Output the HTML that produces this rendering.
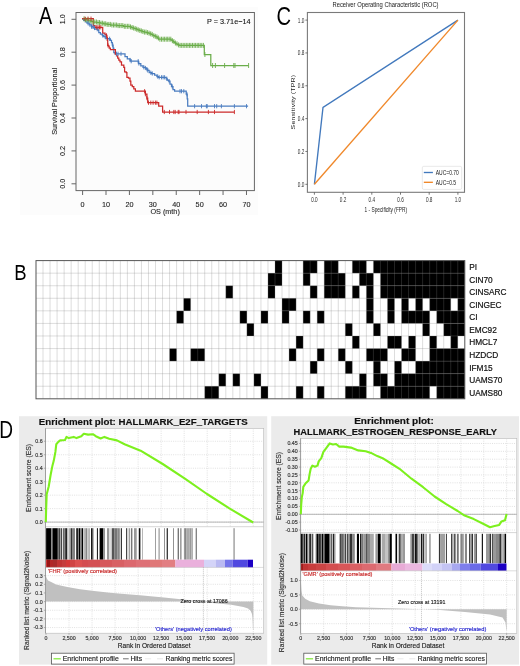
<!DOCTYPE html>
<html><head><meta charset="utf-8"><title>Figure</title>
<style>
html,body{margin:0;padding:0;background:#fff;}
body{width:520px;height:666px;overflow:hidden;font-family:"Liberation Sans", sans-serif;}
svg{display:block;font-family:"Liberation Sans", sans-serif;will-change:transform;filter:blur(0.4px);}
</style></head><body>
<svg width="520" height="666" viewBox="0 0 520 666">
<rect width="520" height="666" fill="#fff"/>
<rect x="20" y="7" width="238" height="208" fill="#fcfcfc"/>
<text x="39" y="23.7" font-size="23" transform="translate(39 0) scale(0.86 1) translate(-39 0)" fill="#000">A</text>
<rect x="76" y="12.5" width="178.4" height="178.1" fill="none" stroke="#666" stroke-width="1"/>
<line x1="71.5" y1="183.80" x2="76" y2="183.80" stroke="#666" stroke-width="1"/>
<text x="0" y="0" font-size="7.25" text-anchor="middle" fill="#222" transform="translate(65.1 183.80) rotate(-90)" stroke="#222" stroke-width="0.1">0.0</text>
<line x1="71.5" y1="150.90" x2="76" y2="150.90" stroke="#666" stroke-width="1"/>
<text x="0" y="0" font-size="7.25" text-anchor="middle" fill="#222" transform="translate(65.1 150.90) rotate(-90)" stroke="#222" stroke-width="0.1">0.2</text>
<line x1="71.5" y1="118.00" x2="76" y2="118.00" stroke="#666" stroke-width="1"/>
<text x="0" y="0" font-size="7.25" text-anchor="middle" fill="#222" transform="translate(65.1 118.00) rotate(-90)" stroke="#222" stroke-width="0.1">0.4</text>
<line x1="71.5" y1="85.10" x2="76" y2="85.10" stroke="#666" stroke-width="1"/>
<text x="0" y="0" font-size="7.25" text-anchor="middle" fill="#222" transform="translate(65.1 85.10) rotate(-90)" stroke="#222" stroke-width="0.1">0.6</text>
<line x1="71.5" y1="52.20" x2="76" y2="52.20" stroke="#666" stroke-width="1"/>
<text x="0" y="0" font-size="7.25" text-anchor="middle" fill="#222" transform="translate(65.1 52.20) rotate(-90)" stroke="#222" stroke-width="0.1">0.8</text>
<line x1="71.5" y1="19.30" x2="76" y2="19.30" stroke="#666" stroke-width="1"/>
<text x="0" y="0" font-size="7.25" text-anchor="middle" fill="#222" transform="translate(65.1 19.30) rotate(-90)" stroke="#222" stroke-width="0.1">1.0</text>
<line x1="82.60" y1="190.6" x2="82.60" y2="195" stroke="#666" stroke-width="1"/>
<text x="82.60" y="206.8" font-size="7.25" text-anchor="middle" fill="#222" stroke="#222" stroke-width="0.1">0</text>
<line x1="106.01" y1="190.6" x2="106.01" y2="195" stroke="#666" stroke-width="1"/>
<text x="106.01" y="206.8" font-size="7.25" text-anchor="middle" fill="#222" stroke="#222" stroke-width="0.1">10</text>
<line x1="129.42" y1="190.6" x2="129.42" y2="195" stroke="#666" stroke-width="1"/>
<text x="129.42" y="206.8" font-size="7.25" text-anchor="middle" fill="#222" stroke="#222" stroke-width="0.1">20</text>
<line x1="152.83" y1="190.6" x2="152.83" y2="195" stroke="#666" stroke-width="1"/>
<text x="152.83" y="206.8" font-size="7.25" text-anchor="middle" fill="#222" stroke="#222" stroke-width="0.1">30</text>
<line x1="176.24" y1="190.6" x2="176.24" y2="195" stroke="#666" stroke-width="1"/>
<text x="176.24" y="206.8" font-size="7.25" text-anchor="middle" fill="#222" stroke="#222" stroke-width="0.1">40</text>
<line x1="199.65" y1="190.6" x2="199.65" y2="195" stroke="#666" stroke-width="1"/>
<text x="199.65" y="206.8" font-size="7.25" text-anchor="middle" fill="#222" stroke="#222" stroke-width="0.1">50</text>
<line x1="223.06" y1="190.6" x2="223.06" y2="195" stroke="#666" stroke-width="1"/>
<text x="223.06" y="206.8" font-size="7.25" text-anchor="middle" fill="#222" stroke="#222" stroke-width="0.1">60</text>
<line x1="246.47" y1="190.6" x2="246.47" y2="195" stroke="#666" stroke-width="1"/>
<text x="246.47" y="206.8" font-size="7.25" text-anchor="middle" fill="#222" stroke="#222" stroke-width="0.1">70</text>
<text x="165.1" y="214.3" font-size="7.25" text-anchor="middle" fill="#222" stroke="#222" stroke-width="0.1">OS (mth)</text>
<text x="0" y="0" font-size="7.25" text-anchor="middle" fill="#222" transform="translate(57.3 101.3) rotate(-90)" stroke="#222" stroke-width="0.1">Survival Proportional</text>
<text x="250.5" y="24" font-size="7.25" text-anchor="end" fill="#111" stroke="#111" stroke-width="0.1">P = 3.71e−14</text>
<polyline points="82.0,18.9 84.3,18.9 84.3,19.5 86.5,19.5 86.5,20.1 88.8,20.1 88.8,20.8 91.0,20.8 91.0,21.4 93.3,21.4 93.3,22.0 96.8,22.0 96.8,22.6 100.2,22.6 100.2,23.2 103.7,23.2 103.7,23.8 107.1,23.8 107.1,24.4 110.6,24.4 110.6,25.0 117.1,25.0 117.1,25.6 123.5,25.6 123.5,26.3 130.0,26.3 130.0,26.9 131.6,26.9 131.6,27.5 133.1,27.5 133.1,28.0 134.6,28.0 134.6,28.6 136.2,28.6 136.2,29.2 137.7,29.2 137.7,29.8 139.2,29.8 139.2,30.4 140.8,30.4 140.8,30.9 142.3,30.9 142.3,31.5 144.2,31.5 144.2,32.1 146.2,32.1 146.2,32.6 148.1,32.6 148.1,33.2 150.0,33.2 150.0,33.8 151.2,33.8 151.2,34.4 152.5,34.4 152.5,35.0 153.7,35.0 153.7,35.7 155.0,35.7 155.0,36.3 156.2,36.3 156.2,36.9 157.3,36.9 157.3,38.0 158.5,38.0 158.5,39.2 170.0,39.2 171.0,39.2 171.0,40.0 172.1,40.0 172.1,40.7 173.1,40.7 173.1,41.5 174.1,41.5 174.1,42.3 175.2,42.3 175.2,43.0 176.2,43.0 176.2,43.8 177.2,43.8 177.2,44.3 178.2,44.3 178.2,44.9 179.2,44.9 179.2,45.4 204.3,45.4 204.3,54.5 210.8,54.5 210.8,65.5 248.6,65.5" fill="none" stroke="#6aad4a" stroke-width="1.25" stroke-linejoin="miter"/>
<polyline points="82.0,18.9 83.7,18.9 83.7,20.3 85.3,20.3 85.3,21.8 87.0,21.8 87.0,23.2 89.2,23.2 89.2,24.9 91.5,24.9 91.5,26.7 93.2,26.7 93.2,27.9 95.0,27.9 95.0,29.2 98.1,29.2 98.1,30.4 98.8,30.4 98.8,32.7 100.4,32.7 100.4,34.2 102.3,34.2 102.3,35.4 103.5,35.4 103.5,36.5 105.8,36.5 105.8,38.5 108.5,38.5 108.5,38.8 110.4,38.8 110.4,40.4 111.5,40.4 111.5,42.7 112.3,42.7 112.3,45.0 113.1,45.0 113.1,48.1 113.8,48.1 113.8,52.7 115.0,52.7 115.0,53.8 124.2,53.8 125.0,53.8 125.0,56.5 127.3,56.5 127.3,58.8 130.0,58.8 130.0,60.0 130.8,60.0 130.8,61.2 136.9,61.2 138.5,61.2 138.5,63.5 140.8,63.5 140.8,65.8 143.0,65.8 143.0,67.3 145.4,67.3 145.4,68.0 146.6,68.0 146.6,69.2 147.7,69.2 147.7,70.4 149.2,70.4 149.2,72.7 151.5,72.7 151.5,73.5 154.6,73.5 154.6,75.0 156.9,75.0 156.9,76.5 158.5,76.5 158.5,77.3 164.6,77.3 166.2,77.3 166.2,78.8 167.3,78.8 167.3,80.0 168.5,80.0 168.5,81.2 170.0,81.2 170.0,84.2 171.5,84.2 171.5,86.5 173.0,86.5 173.0,89.6 174.6,89.6 174.6,91.2 184.6,91.2 186.2,91.2 186.2,94.2 187.2,94.2 187.2,98.8 187.7,98.8 187.7,106.2 248.1,106.2" fill="none" stroke="#4a7cc0" stroke-width="1.25" stroke-linejoin="miter"/>
<polyline points="82.0,18.7 93.3,18.7 93.3,25.5 95.0,25.5 95.0,27.3 102.7,27.3 102.7,33.1 104.2,33.1 105.0,33.1 105.0,34.6 106.2,34.6 106.2,35.4 106.9,35.4 106.9,37.3 107.3,37.3 107.3,40.4 107.7,40.4 107.7,45.4 108.5,45.4 108.5,46.2 109.2,46.2 109.2,48.1 110.4,48.1 110.4,49.6 115.0,49.6 115.4,49.6 115.4,54.2 116.5,54.2 116.5,55.8 117.7,55.8 117.7,58.1 118.8,58.1 118.8,60.0 120.0,60.0 120.0,61.9 121.5,61.9 121.5,65.0 123.8,65.0 123.8,67.3 124.6,67.3 124.6,71.9 126.2,71.9 126.2,72.7 126.9,72.7 126.9,77.3 128.5,77.3 128.5,78.0 130.0,78.0 130.0,81.2 130.8,81.2 130.8,85.0 132.3,85.0 132.3,86.5 133.8,86.5 133.8,88.8 135.4,88.8 135.4,91.2 144.6,91.2 145.4,91.2 145.4,94.2 146.9,94.2 146.9,98.1 147.7,98.1 147.7,102.7 157.8,102.7 158.7,102.7 158.7,106.1 161.8,106.1 162.6,106.1 162.6,112.0 234.4,112.0" fill="none" stroke="#cc2a2a" stroke-width="1.25" stroke-linejoin="miter"/>
<path d="M84.0 16.4V21.4M85.5 17.0V22.0M87.1 17.6V22.6M88.7 17.6V22.6M90.2 18.3V23.3M91.8 18.9V23.9M93.3 19.5V24.5M94.8 19.5V24.5M96.4 19.5V24.5M98.0 20.1V25.1M99.5 20.1V25.1M101.0 20.7V25.7M102.6 20.7V25.7M104.2 21.3V26.3M105.7 21.3V26.3M107.2 21.9V26.9M108.8 21.9V26.9M110.3 21.9V26.9M111.9 22.5V27.5M113.5 22.5V27.5M115.0 22.5V27.5M116.6 22.5V27.5M118.1 23.1V28.1M119.7 23.1V28.1M121.2 23.1V28.1M122.8 23.1V28.1M124.3 23.8V28.8M125.8 23.8V28.8M127.4 23.8V28.8M128.9 23.8V28.8M130.5 24.4V29.4M132.1 25.0V30.0M133.6 25.5V30.5M135.2 26.1V31.1M136.7 26.7V31.7M138.2 27.3V32.3M139.8 27.9V32.9M141.3 28.4V33.4M142.9 29.0V34.0M144.4 29.6V34.6M146.0 29.6V34.6M147.6 30.1V35.1M149.1 30.7V35.7M150.7 31.3V36.3M152.2 31.9V36.9M153.8 33.2V38.2M155.3 33.8V38.8M156.9 34.4V39.4M158.4 35.5V40.5M159.9 36.7V41.7M161.5 36.7V41.7M163.1 36.7V41.7M164.6 36.7V41.7M166.2 36.7V41.7M167.7 36.7V41.7M169.2 36.7V41.7M170.8 36.7V41.7M172.4 38.2V43.2M173.9 39.0V44.0M175.4 40.5V45.5M177.0 41.3V46.3M178.6 42.4V47.4M180.1 42.9V47.9M181.7 42.9V47.9M183.2 42.9V47.9M184.8 42.9V47.9M186.3 42.9V47.9M187.9 42.9V47.9M189.4 42.9V47.9M190.9 42.9V47.9M192.5 42.9V47.9M194.1 42.9V47.9M195.6 42.9V47.9M197.2 42.9V47.9M198.7 42.9V47.9M200.2 42.9V47.9M201.8 42.9V47.9M203.4 42.9V47.9M204.9 52.0V57.0M212.6 63.0V68.0M215.4 63.0V68.0M224.6 63.0V68.0M233.8 63.0V68.0M235.0 63.0V68.0M248.6 63.0V68.0" stroke="#6aad4a" stroke-width="0.9" fill="none"/>
<path d="M88.0 21.1V25.3M90.0 22.8V27.1M91.5 24.6V28.8M93.0 24.6V28.8M94.5 25.8V30.1M97.2 27.1V31.3M102.7 33.3V37.5M105.0 34.4V38.6M109.6 36.7V40.9M112.7 42.9V47.1M116.5 51.7V55.9M118.0 51.7V55.9M121.0 51.7V55.9M130.0 57.9V62.1M131.2 59.1V63.3M138.2 59.1V63.3M138.9 61.4V65.6M143.8 65.2V69.4M145.4 65.9V70.1M146.9 67.1V71.3M147.7 68.3V72.5M150.8 70.6V74.8M152.3 71.4V75.6M157.7 74.4V78.6M159.2 75.2V79.4M161.5 75.2V79.4M163.1 75.2V79.4M164.6 75.2V79.4M166.9 76.7V80.9M169.2 79.1V83.3M172.3 84.4V88.6M180.0 89.1V93.3M181.5 89.1V93.3M183.8 89.1V93.3M186.9 92.1V96.3M194.6 104.1V108.3M201.5 104.1V108.3M206.4 104.1V108.3M207.2 104.1V108.3M214.5 104.1V108.3M216.7 104.1V108.3M221.4 104.1V108.3M234.4 104.1V108.3M246.5 104.1V108.3" stroke="#4a7cc0" stroke-width="0.9" fill="none"/>
<path d="M85.0 16.6V20.8M88.0 16.6V20.8M91.0 16.6V20.8M96.7 25.2V29.4M98.0 25.2V29.4M99.5 25.2V29.4M100.8 25.2V29.4M106.5 33.3V37.5M108.0 43.3V47.5M144.6 89.1V93.3M145.4 92.1V96.3M146.9 96.0V100.2M148.5 100.6V104.8M150.8 100.6V104.8M153.1 100.6V104.8M155.4 100.6V104.8M156.9 100.6V104.8M164.3 109.9V114.1M169.5 109.9V114.1M173.8 109.9V114.1M175.2 109.9V114.1M178.2 109.9V114.1M179.0 109.9V114.1M186.0 109.9V114.1M197.2 109.9V114.1M208.4 109.9V114.1M214.5 109.9V114.1M234.4 109.9V114.1" stroke="#cc2a2a" stroke-width="0.9" fill="none"/>
<text x="276.6" y="24.6" font-size="25.5" transform="translate(276.6 0) scale(0.79 1) translate(-276.6 0)" fill="#000">C</text>
<text x="0" y="0" font-size="8" fill="#222" stroke="#222" stroke-width="0.01" text-anchor="middle" transform="translate(385.5 7.3) scale(0.73 1)">Receiver Operating Characteristic (ROC)</text>
<rect x="307.4" y="12.5" width="157.1" height="179.8" fill="none" stroke="#7a7a7a" stroke-width="1.1"/>
<line x1="305.4" y1="184.30" x2="307.4" y2="184.30" stroke="#555" stroke-width="0.8"/>
<text x="0" y="0" font-size="6.7" fill="#333" stroke="#333" stroke-width="0.01" text-anchor="end" transform="translate(304.3 186.70) scale(0.7 1)">0.0</text>
<line x1="314.40" y1="192.3" x2="314.40" y2="194.7" stroke="#555" stroke-width="0.8"/>
<text x="0" y="0" font-size="6.7" fill="#333" stroke="#333" stroke-width="0.01" text-anchor="middle" transform="translate(314.40 202.3) scale(0.7 1)">0.0</text>
<line x1="305.4" y1="151.46" x2="307.4" y2="151.46" stroke="#555" stroke-width="0.8"/>
<text x="0" y="0" font-size="6.7" fill="#333" stroke="#333" stroke-width="0.01" text-anchor="end" transform="translate(304.3 153.86) scale(0.7 1)">0.2</text>
<line x1="343.10" y1="192.3" x2="343.10" y2="194.7" stroke="#555" stroke-width="0.8"/>
<text x="0" y="0" font-size="6.7" fill="#333" stroke="#333" stroke-width="0.01" text-anchor="middle" transform="translate(343.10 202.3) scale(0.7 1)">0.2</text>
<line x1="305.4" y1="118.62" x2="307.4" y2="118.62" stroke="#555" stroke-width="0.8"/>
<text x="0" y="0" font-size="6.7" fill="#333" stroke="#333" stroke-width="0.01" text-anchor="end" transform="translate(304.3 121.02) scale(0.7 1)">0.4</text>
<line x1="371.80" y1="192.3" x2="371.80" y2="194.7" stroke="#555" stroke-width="0.8"/>
<text x="0" y="0" font-size="6.7" fill="#333" stroke="#333" stroke-width="0.01" text-anchor="middle" transform="translate(371.80 202.3) scale(0.7 1)">0.4</text>
<line x1="305.4" y1="85.78" x2="307.4" y2="85.78" stroke="#555" stroke-width="0.8"/>
<text x="0" y="0" font-size="6.7" fill="#333" stroke="#333" stroke-width="0.01" text-anchor="end" transform="translate(304.3 88.18) scale(0.7 1)">0.6</text>
<line x1="400.50" y1="192.3" x2="400.50" y2="194.7" stroke="#555" stroke-width="0.8"/>
<text x="0" y="0" font-size="6.7" fill="#333" stroke="#333" stroke-width="0.01" text-anchor="middle" transform="translate(400.50 202.3) scale(0.7 1)">0.6</text>
<line x1="305.4" y1="52.94" x2="307.4" y2="52.94" stroke="#555" stroke-width="0.8"/>
<text x="0" y="0" font-size="6.7" fill="#333" stroke="#333" stroke-width="0.01" text-anchor="end" transform="translate(304.3 55.34) scale(0.7 1)">0.8</text>
<line x1="429.20" y1="192.3" x2="429.20" y2="194.7" stroke="#555" stroke-width="0.8"/>
<text x="0" y="0" font-size="6.7" fill="#333" stroke="#333" stroke-width="0.01" text-anchor="middle" transform="translate(429.20 202.3) scale(0.7 1)">0.8</text>
<line x1="305.4" y1="20.10" x2="307.4" y2="20.10" stroke="#555" stroke-width="0.8"/>
<text x="0" y="0" font-size="6.7" fill="#333" stroke="#333" stroke-width="0.01" text-anchor="end" transform="translate(304.3 22.50) scale(0.7 1)">1.0</text>
<line x1="457.90" y1="192.3" x2="457.90" y2="194.7" stroke="#555" stroke-width="0.8"/>
<text x="0" y="0" font-size="6.7" fill="#333" stroke="#333" stroke-width="0.01" text-anchor="middle" transform="translate(457.90 202.3) scale(0.7 1)">1.0</text>
<text x="0" y="0" font-size="7.6" fill="#222" stroke="#222" stroke-width="0.01" text-anchor="middle" transform="translate(385.8 212) scale(0.63 1)">1 - Specificity (FPR)</text>
<text x="0" y="0" font-size="6.9" fill="#222" stroke="#222" stroke-width="0.01" text-anchor="middle" textLength="54.4" lengthAdjust="spacing" transform="translate(295.2 102.2) rotate(-90) scale(1 0.78)">Sensitivity (TPR)</text>
<polyline points="314.4,184.3 323,107.5 457.9,20.1" fill="none" stroke="#4279bd" stroke-width="1.35"/>
<line x1="314.4" y1="184.3" x2="457.9" y2="20.1" stroke="#f0882a" stroke-width="1.35"/>
<rect x="422.3" y="166.3" width="39.4" height="23.1" rx="1.5" fill="#fff" fill-opacity="0.8" stroke="#d8d8d8" stroke-width="0.6"/>
<line x1="423.8" y1="172.5" x2="432.9" y2="172.5" stroke="#4279bd" stroke-width="1.35"/>
<line x1="423.8" y1="182.3" x2="432.9" y2="182.3" stroke="#f0882a" stroke-width="1.35"/>
<text x="0" y="0" font-size="7.2" fill="#222" stroke="#222" stroke-width="0.01" transform="translate(435.8 175) scale(0.69 1)">AUC=0.70</text>
<text x="0" y="0" font-size="7.2" fill="#222" stroke="#222" stroke-width="0.01" transform="translate(435.8 185) scale(0.69 1)">AUC=0.5</text>
<text x="14.3" y="279.8" font-size="22.6" transform="translate(14.3 0) scale(0.82 1) translate(-14.3 0)" fill="#000">B</text>
<rect x="36.0" y="260.6" width="428.80" height="138.20" fill="#fff"/>
<rect x="275.00" y="260.60" width="7.03" height="12.56" fill="#000"/>
<rect x="303.12" y="260.60" width="14.06" height="12.56" fill="#000"/>
<rect x="324.21" y="260.60" width="14.06" height="12.56" fill="#000"/>
<rect x="352.33" y="260.60" width="14.06" height="12.56" fill="#000"/>
<rect x="373.42" y="260.60" width="91.38" height="12.56" fill="#000"/>
<rect x="267.97" y="273.16" width="14.06" height="12.56" fill="#000"/>
<rect x="303.12" y="273.16" width="7.03" height="12.56" fill="#000"/>
<rect x="324.21" y="273.16" width="21.09" height="12.56" fill="#000"/>
<rect x="359.36" y="273.16" width="14.06" height="12.56" fill="#000"/>
<rect x="380.45" y="273.16" width="84.35" height="12.56" fill="#000"/>
<rect x="225.80" y="285.73" width="7.03" height="12.56" fill="#000"/>
<rect x="267.97" y="285.73" width="7.03" height="12.56" fill="#000"/>
<rect x="310.15" y="285.73" width="7.03" height="12.56" fill="#000"/>
<rect x="324.21" y="285.73" width="21.09" height="12.56" fill="#000"/>
<rect x="352.33" y="285.73" width="7.03" height="12.56" fill="#000"/>
<rect x="366.39" y="285.73" width="7.03" height="12.56" fill="#000"/>
<rect x="380.45" y="285.73" width="84.35" height="12.56" fill="#000"/>
<rect x="183.62" y="298.29" width="7.03" height="12.56" fill="#000"/>
<rect x="282.03" y="298.29" width="14.06" height="12.56" fill="#000"/>
<rect x="366.39" y="298.29" width="7.03" height="12.56" fill="#000"/>
<rect x="387.48" y="298.29" width="7.03" height="12.56" fill="#000"/>
<rect x="401.53" y="298.29" width="7.03" height="12.56" fill="#000"/>
<rect x="415.59" y="298.29" width="7.03" height="12.56" fill="#000"/>
<rect x="429.65" y="298.29" width="21.09" height="12.56" fill="#000"/>
<rect x="457.77" y="298.29" width="7.03" height="12.56" fill="#000"/>
<rect x="176.59" y="310.85" width="7.03" height="12.56" fill="#000"/>
<rect x="239.86" y="310.85" width="7.03" height="12.56" fill="#000"/>
<rect x="260.94" y="310.85" width="7.03" height="12.56" fill="#000"/>
<rect x="282.03" y="310.85" width="7.03" height="12.56" fill="#000"/>
<rect x="303.12" y="310.85" width="7.03" height="12.56" fill="#000"/>
<rect x="317.18" y="310.85" width="7.03" height="12.56" fill="#000"/>
<rect x="366.39" y="310.85" width="7.03" height="12.56" fill="#000"/>
<rect x="387.48" y="310.85" width="7.03" height="12.56" fill="#000"/>
<rect x="401.53" y="310.85" width="28.12" height="12.56" fill="#000"/>
<rect x="436.68" y="310.85" width="28.12" height="12.56" fill="#000"/>
<rect x="246.89" y="323.42" width="7.03" height="12.56" fill="#000"/>
<rect x="345.30" y="323.42" width="7.03" height="12.56" fill="#000"/>
<rect x="373.42" y="323.42" width="7.03" height="12.56" fill="#000"/>
<rect x="422.62" y="323.42" width="7.03" height="12.56" fill="#000"/>
<rect x="443.71" y="323.42" width="21.09" height="12.56" fill="#000"/>
<rect x="296.09" y="335.98" width="7.03" height="12.56" fill="#000"/>
<rect x="352.33" y="335.98" width="7.03" height="12.56" fill="#000"/>
<rect x="387.48" y="335.98" width="14.06" height="12.56" fill="#000"/>
<rect x="408.56" y="335.98" width="7.03" height="12.56" fill="#000"/>
<rect x="429.65" y="335.98" width="7.03" height="12.56" fill="#000"/>
<rect x="450.74" y="335.98" width="7.03" height="12.56" fill="#000"/>
<rect x="169.56" y="348.55" width="7.03" height="12.56" fill="#000"/>
<rect x="190.65" y="348.55" width="14.06" height="12.56" fill="#000"/>
<rect x="289.06" y="348.55" width="7.03" height="12.56" fill="#000"/>
<rect x="317.18" y="348.55" width="7.03" height="12.56" fill="#000"/>
<rect x="338.27" y="348.55" width="7.03" height="12.56" fill="#000"/>
<rect x="366.39" y="348.55" width="21.09" height="12.56" fill="#000"/>
<rect x="401.53" y="348.55" width="14.06" height="12.56" fill="#000"/>
<rect x="429.65" y="348.55" width="35.15" height="12.56" fill="#000"/>
<rect x="310.15" y="361.11" width="7.03" height="12.56" fill="#000"/>
<rect x="345.30" y="361.11" width="7.03" height="12.56" fill="#000"/>
<rect x="373.42" y="361.11" width="7.03" height="12.56" fill="#000"/>
<rect x="394.50" y="361.11" width="7.03" height="12.56" fill="#000"/>
<rect x="415.59" y="361.11" width="49.21" height="12.56" fill="#000"/>
<rect x="218.77" y="373.67" width="7.03" height="12.56" fill="#000"/>
<rect x="232.83" y="373.67" width="7.03" height="12.56" fill="#000"/>
<rect x="253.91" y="373.67" width="7.03" height="12.56" fill="#000"/>
<rect x="359.36" y="373.67" width="7.03" height="12.56" fill="#000"/>
<rect x="373.42" y="373.67" width="14.06" height="12.56" fill="#000"/>
<rect x="394.50" y="373.67" width="70.30" height="12.56" fill="#000"/>
<rect x="204.71" y="386.24" width="14.06" height="12.56" fill="#000"/>
<rect x="260.94" y="386.24" width="7.03" height="12.56" fill="#000"/>
<rect x="296.09" y="386.24" width="7.03" height="12.56" fill="#000"/>
<rect x="317.18" y="386.24" width="7.03" height="12.56" fill="#000"/>
<rect x="345.30" y="386.24" width="21.09" height="12.56" fill="#000"/>
<rect x="380.45" y="386.24" width="49.21" height="12.56" fill="#000"/>
<rect x="436.68" y="386.24" width="28.12" height="12.56" fill="#000"/>
<path d="M43.03 260.6V398.8M50.06 260.6V398.8M57.09 260.6V398.8M64.12 260.6V398.8M71.15 260.6V398.8M78.18 260.6V398.8M85.21 260.6V398.8M92.24 260.6V398.8M99.27 260.6V398.8M106.30 260.6V398.8M113.32 260.6V398.8M120.35 260.6V398.8M127.38 260.6V398.8M134.41 260.6V398.8M141.44 260.6V398.8M148.47 260.6V398.8M155.50 260.6V398.8M162.53 260.6V398.8M169.56 260.6V398.8M176.59 260.6V398.8M183.62 260.6V398.8M190.65 260.6V398.8M197.68 260.6V398.8M204.71 260.6V398.8M211.74 260.6V398.8M218.77 260.6V398.8M225.80 260.6V398.8M232.83 260.6V398.8M239.86 260.6V398.8M246.89 260.6V398.8M253.91 260.6V398.8M260.94 260.6V398.8M267.97 260.6V398.8M275.00 260.6V398.8M282.03 260.6V398.8M289.06 260.6V398.8M296.09 260.6V398.8M303.12 260.6V398.8M310.15 260.6V398.8M317.18 260.6V398.8M324.21 260.6V398.8M331.24 260.6V398.8M338.27 260.6V398.8M345.30 260.6V398.8M352.33 260.6V398.8M359.36 260.6V398.8M366.39 260.6V398.8M373.42 260.6V398.8M380.45 260.6V398.8M387.48 260.6V398.8M394.50 260.6V398.8M401.53 260.6V398.8M408.56 260.6V398.8M415.59 260.6V398.8M422.62 260.6V398.8M429.65 260.6V398.8M436.68 260.6V398.8M443.71 260.6V398.8M450.74 260.6V398.8M457.77 260.6V398.8M36.0 273.16H464.8M36.0 285.73H464.8M36.0 298.29H464.8M36.0 310.85H464.8M36.0 323.42H464.8M36.0 335.98H464.8M36.0 348.55H464.8M36.0 361.11H464.8M36.0 373.67H464.8M36.0 386.24H464.8" stroke="#808080" stroke-opacity="0.27" stroke-width="1" fill="none"/>
<rect x="36.0" y="260.6" width="428.80" height="138.20" fill="none" stroke="#555" stroke-width="1"/>
<text x="469.2" y="270.03" font-size="8.3" fill="#111" stroke="#111" stroke-width="0.18">PI</text>
<text x="469.2" y="282.60" font-size="8.3" fill="#111" stroke="#111" stroke-width="0.18">CIN70</text>
<text x="469.2" y="295.16" font-size="8.3" fill="#111" stroke="#111" stroke-width="0.18">CINSARC</text>
<text x="469.2" y="307.72" font-size="8.3" fill="#111" stroke="#111" stroke-width="0.18">CINGEC</text>
<text x="469.2" y="320.29" font-size="8.3" fill="#111" stroke="#111" stroke-width="0.18">CI</text>
<text x="469.2" y="332.85" font-size="8.3" fill="#111" stroke="#111" stroke-width="0.18">EMC92</text>
<text x="469.2" y="345.41" font-size="8.3" fill="#111" stroke="#111" stroke-width="0.18">HMCL7</text>
<text x="469.2" y="357.98" font-size="8.3" fill="#111" stroke="#111" stroke-width="0.18">HZDCD</text>
<text x="469.2" y="370.54" font-size="8.3" fill="#111" stroke="#111" stroke-width="0.18">IFM15</text>
<text x="469.2" y="383.10" font-size="8.3" fill="#111" stroke="#111" stroke-width="0.18">UAMS70</text>
<text x="469.2" y="395.67" font-size="8.3" fill="#111" stroke="#111" stroke-width="0.18">UAMS80</text>
<text x="0" y="437.6" font-size="23" transform="translate(-0.8 0) scale(0.83 1)" fill="#000">D</text>
<rect x="19" y="416.2" width="248.2" height="248.4" fill="#ebebeb"/>
<text x="38.8" y="424.8" font-size="8.9" font-weight="bold" fill="#111" textLength="208.9" lengthAdjust="spacingAndGlyphs" stroke="#111" stroke-width="0.15">Enrichment plot: HALLMARK_E2F_TARGETS</text>
<rect x="45.5" y="428.5" width="218.2" height="204.7" fill="#fff" stroke="#b8b8b8" stroke-width="0.6"/>
<line x1="69.03" y1="428.5" x2="69.03" y2="526.7" stroke="#d4d4d4" stroke-width="0.7" stroke-dasharray="1,1.2"/>
<line x1="69.03" y1="567.3" x2="69.03" y2="633.2" stroke="#d4d4d4" stroke-width="0.7" stroke-dasharray="1,1.2"/>
<line x1="92.06" y1="428.5" x2="92.06" y2="526.7" stroke="#d4d4d4" stroke-width="0.7" stroke-dasharray="1,1.2"/>
<line x1="92.06" y1="567.3" x2="92.06" y2="633.2" stroke="#d4d4d4" stroke-width="0.7" stroke-dasharray="1,1.2"/>
<line x1="115.09" y1="428.5" x2="115.09" y2="526.7" stroke="#d4d4d4" stroke-width="0.7" stroke-dasharray="1,1.2"/>
<line x1="115.09" y1="567.3" x2="115.09" y2="633.2" stroke="#d4d4d4" stroke-width="0.7" stroke-dasharray="1,1.2"/>
<line x1="138.12" y1="428.5" x2="138.12" y2="526.7" stroke="#d4d4d4" stroke-width="0.7" stroke-dasharray="1,1.2"/>
<line x1="138.12" y1="567.3" x2="138.12" y2="633.2" stroke="#d4d4d4" stroke-width="0.7" stroke-dasharray="1,1.2"/>
<line x1="161.15" y1="428.5" x2="161.15" y2="526.7" stroke="#d4d4d4" stroke-width="0.7" stroke-dasharray="1,1.2"/>
<line x1="161.15" y1="567.3" x2="161.15" y2="633.2" stroke="#d4d4d4" stroke-width="0.7" stroke-dasharray="1,1.2"/>
<line x1="184.18" y1="428.5" x2="184.18" y2="526.7" stroke="#d4d4d4" stroke-width="0.7" stroke-dasharray="1,1.2"/>
<line x1="184.18" y1="567.3" x2="184.18" y2="633.2" stroke="#d4d4d4" stroke-width="0.7" stroke-dasharray="1,1.2"/>
<line x1="207.21" y1="428.5" x2="207.21" y2="526.7" stroke="#d4d4d4" stroke-width="0.7" stroke-dasharray="1,1.2"/>
<line x1="207.21" y1="567.3" x2="207.21" y2="633.2" stroke="#d4d4d4" stroke-width="0.7" stroke-dasharray="1,1.2"/>
<line x1="230.24" y1="428.5" x2="230.24" y2="526.7" stroke="#d4d4d4" stroke-width="0.7" stroke-dasharray="1,1.2"/>
<line x1="230.24" y1="567.3" x2="230.24" y2="633.2" stroke="#d4d4d4" stroke-width="0.7" stroke-dasharray="1,1.2"/>
<line x1="253.27" y1="428.5" x2="253.27" y2="526.7" stroke="#d4d4d4" stroke-width="0.7" stroke-dasharray="1,1.2"/>
<line x1="253.27" y1="567.3" x2="253.27" y2="633.2" stroke="#d4d4d4" stroke-width="0.7" stroke-dasharray="1,1.2"/>
<line x1="45.5" y1="441.28" x2="263.7" y2="441.28" stroke="#d4d4d4" stroke-width="0.7" stroke-dasharray="1,1.2"/>
<line x1="43.9" y1="441.28" x2="45.5" y2="441.28" stroke="#888" stroke-width="0.6"/>
<text x="42.6" y="443.18" font-size="5.3" fill="#333" text-anchor="end" stroke="#333" stroke-width="0.15">0.6</text>
<line x1="45.5" y1="454.75" x2="263.7" y2="454.75" stroke="#d4d4d4" stroke-width="0.7" stroke-dasharray="1,1.2"/>
<line x1="43.9" y1="454.75" x2="45.5" y2="454.75" stroke="#888" stroke-width="0.6"/>
<text x="42.6" y="456.65" font-size="5.3" fill="#333" text-anchor="end" stroke="#333" stroke-width="0.15">0.5</text>
<line x1="45.5" y1="468.22" x2="263.7" y2="468.22" stroke="#d4d4d4" stroke-width="0.7" stroke-dasharray="1,1.2"/>
<line x1="43.9" y1="468.22" x2="45.5" y2="468.22" stroke="#888" stroke-width="0.6"/>
<text x="42.6" y="470.12" font-size="5.3" fill="#333" text-anchor="end" stroke="#333" stroke-width="0.15">0.4</text>
<line x1="45.5" y1="481.69" x2="263.7" y2="481.69" stroke="#d4d4d4" stroke-width="0.7" stroke-dasharray="1,1.2"/>
<line x1="43.9" y1="481.69" x2="45.5" y2="481.69" stroke="#888" stroke-width="0.6"/>
<text x="42.6" y="483.59" font-size="5.3" fill="#333" text-anchor="end" stroke="#333" stroke-width="0.15">0.3</text>
<line x1="45.5" y1="495.16" x2="263.7" y2="495.16" stroke="#d4d4d4" stroke-width="0.7" stroke-dasharray="1,1.2"/>
<line x1="43.9" y1="495.16" x2="45.5" y2="495.16" stroke="#888" stroke-width="0.6"/>
<text x="42.6" y="497.06" font-size="5.3" fill="#333" text-anchor="end" stroke="#333" stroke-width="0.15">0.2</text>
<line x1="45.5" y1="508.63" x2="263.7" y2="508.63" stroke="#d4d4d4" stroke-width="0.7" stroke-dasharray="1,1.2"/>
<line x1="43.9" y1="508.63" x2="45.5" y2="508.63" stroke="#888" stroke-width="0.6"/>
<text x="42.6" y="510.53" font-size="5.3" fill="#333" text-anchor="end" stroke="#333" stroke-width="0.15">0.1</text>
<line x1="45.5" y1="522.10" x2="263.7" y2="522.10" stroke="#d4d4d4" stroke-width="0.7" stroke-dasharray="1,1.2"/>
<line x1="43.9" y1="522.10" x2="45.5" y2="522.10" stroke="#888" stroke-width="0.6"/>
<text x="42.6" y="524.00" font-size="5.3" fill="#333" text-anchor="end" stroke="#333" stroke-width="0.15">0.0</text>
<line x1="45.5" y1="522.10" x2="263.7" y2="522.10" stroke="#999" stroke-width="0.7"/>
<line x1="45.5" y1="526.7" x2="263.7" y2="526.7" stroke="#bbb" stroke-width="0.6"/>
<rect x="46.1" y="528.2" width="5.30" height="31.50" fill="#000"/>
<rect x="51.4" y="528.2" width="1.10" height="31.50" fill="#888"/>
<rect x="52.5" y="528.2" width="5.30" height="31.50" fill="#000"/>
<rect x="57.8" y="528.2" width="1.00" height="31.50" fill="#777"/>
<rect x="58.8" y="528.2" width="1.10" height="31.50" fill="#222"/>
<rect x="59.9" y="528.2" width="1.00" height="31.50" fill="#aaa"/>
<rect x="60.9" y="528.2" width="1.10" height="31.50" fill="#444"/>
<rect x="62.8" y="528.2" width="1.20" height="31.50" fill="#666"/>
<rect x="64" y="528.2" width="1.20" height="31.50" fill="#888"/>
<rect x="65.2" y="528.2" width="2.10" height="31.50" fill="#222"/>
<rect x="68.6" y="528.2" width="0.80" height="31.50" fill="#999"/>
<rect x="69.4" y="528.2" width="1.60" height="31.50" fill="#999"/>
<rect x="71" y="528.2" width="1.00" height="31.50" fill="#333"/>
<rect x="72" y="528.2" width="1.60" height="31.50" fill="#888"/>
<rect x="73.6" y="528.2" width="1.00" height="31.50" fill="#333"/>
<rect x="76.3" y="528.2" width="1.60" height="31.50" fill="#000"/>
<rect x="77.9" y="528.2" width="1.00" height="31.50" fill="#888"/>
<rect x="78.9" y="528.2" width="1.60" height="31.50" fill="#000"/>
<rect x="80.5" y="528.2" width="1.10" height="31.50" fill="#999"/>
<rect x="81.6" y="528.2" width="1.60" height="31.50" fill="#000"/>
<rect x="84.2" y="528.2" width="1.60" height="31.50" fill="#aaa"/>
<rect x="85.8" y="528.2" width="1.60" height="31.50" fill="#888"/>
<rect x="88.4" y="528.2" width="1.30" height="31.50" fill="#999"/>
<rect x="91.1" y="528.2" width="1.60" height="31.50" fill="#000"/>
<rect x="92.7" y="528.2" width="1.00" height="31.50" fill="#999"/>
<rect x="96.9" y="528.2" width="1.10" height="31.50" fill="#222"/>
<rect x="99.6" y="528.2" width="3.70" height="31.50" fill="#000"/>
<rect x="103.3" y="528.2" width="1.60" height="31.50" fill="#888"/>
<rect x="107" y="528.2" width="2.20" height="31.50" fill="#999"/>
<rect x="109.2" y="528.2" width="2.60" height="31.50" fill="#ddd"/>
<rect x="111.8" y="528.2" width="2.70" height="31.50" fill="#555"/>
<rect x="114.5" y="528.2" width="3.10" height="31.50" fill="#777"/>
<rect x="117.6" y="528.2" width="2.20" height="31.50" fill="#888"/>
<rect x="120.8" y="528.2" width="1.10" height="31.50" fill="#222"/>
<rect x="126.1" y="528.2" width="1.10" height="31.50" fill="#333"/>
<rect x="128.7" y="528.2" width="1.10" height="31.50" fill="#888"/>
<rect x="130.9" y="528.2" width="1.50" height="31.50" fill="#777"/>
<rect x="134" y="528.2" width="2.70" height="31.50" fill="#999"/>
<rect x="138.8" y="528.2" width="1.60" height="31.50" fill="#111"/>
<rect x="142" y="528.2" width="0.70" height="31.50" fill="#999"/>
<rect x="155.1" y="528.2" width="0.70" height="31.50" fill="#777"/>
<rect x="158.5" y="528.2" width="1.20" height="31.50" fill="#999"/>
<rect x="164" y="528.2" width="0.80" height="31.50" fill="#777"/>
<rect x="166.7" y="528.2" width="1.10" height="31.50" fill="#111"/>
<rect x="173.1" y="528.2" width="0.80" height="31.50" fill="#777"/>
<rect x="177.7" y="528.2" width="1.10" height="31.50" fill="#555"/>
<rect x="180.2" y="528.2" width="1.30" height="31.50" fill="#888"/>
<rect x="183.9" y="528.2" width="1.10" height="31.50" fill="#999"/>
<rect x="185" y="528.2" width="1.50" height="31.50" fill="#888"/>
<rect x="186.5" y="528.2" width="3.00" height="31.50" fill="#aaa"/>
<rect x="189.5" y="528.2" width="2.00" height="31.50" fill="#999"/>
<rect x="191.5" y="528.2" width="1.40" height="31.50" fill="#aaa"/>
<rect x="195.7" y="528.2" width="1.10" height="31.50" fill="#666"/>
<rect x="233.6" y="528.2" width="0.90" height="31.50" fill="#666"/>
<rect x="46.1" y="559.7" width="0.90" height="7.70" fill="#c42020"/>
<rect x="47" y="559.7" width="3.00" height="7.70" fill="#9a1414"/>
<rect x="50" y="559.7" width="3.00" height="7.70" fill="#b02828"/>
<rect x="53" y="559.7" width="4.00" height="7.70" fill="#a82c2c"/>
<rect x="57" y="559.7" width="5.00" height="7.70" fill="#c03434"/>
<rect x="62" y="559.7" width="4.00" height="7.70" fill="#c43c3c"/>
<rect x="66" y="559.7" width="4.00" height="7.70" fill="#d43838"/>
<rect x="70" y="559.7" width="5.00" height="7.70" fill="#d04444"/>
<rect x="75" y="559.7" width="7.00" height="7.70" fill="#dc5050"/>
<rect x="82" y="559.7" width="6.00" height="7.70" fill="#d44c50"/>
<rect x="88" y="559.7" width="12.00" height="7.70" fill="#d45054"/>
<rect x="100" y="559.7" width="12.00" height="7.70" fill="#d6585c"/>
<rect x="112" y="559.7" width="12.00" height="7.70" fill="#d86064"/>
<rect x="124" y="559.7" width="12.00" height="7.70" fill="#dc686e"/>
<rect x="136" y="559.7" width="14.00" height="7.70" fill="#de7076"/>
<rect x="150" y="559.7" width="12.00" height="7.70" fill="#e07878"/>
<rect x="162" y="559.7" width="13.40" height="7.70" fill="#e27e82"/>
<rect x="175.4" y="559.7" width="28.60" height="7.70" fill="#eab0dc"/>
<rect x="204" y="559.7" width="11.60" height="7.70" fill="#d4d4f8"/>
<rect x="215.6" y="559.7" width="9.40" height="7.70" fill="#babaf2"/>
<rect x="225" y="559.7" width="7.50" height="7.70" fill="#7474ea"/>
<rect x="232.5" y="559.7" width="15.20" height="7.70" fill="#5048e0"/>
<rect x="247.7" y="559.7" width="5.30" height="7.70" fill="#1c00c4"/>
<line x1="45.5" y1="567.4" x2="263.7" y2="567.4" stroke="#bbb" stroke-width="0.5"/>
<line x1="45.5" y1="575.65" x2="263.7" y2="575.65" stroke="#d4d4d4" stroke-width="0.7" stroke-dasharray="1,1.2"/>
<line x1="43.9" y1="575.65" x2="45.5" y2="575.65" stroke="#888" stroke-width="0.6"/>
<text x="42.6" y="577.55" font-size="5.3" fill="#333" text-anchor="end" stroke="#333" stroke-width="0.15">0.3</text>
<line x1="45.5" y1="584.30" x2="263.7" y2="584.30" stroke="#d4d4d4" stroke-width="0.7" stroke-dasharray="1,1.2"/>
<line x1="43.9" y1="584.30" x2="45.5" y2="584.30" stroke="#888" stroke-width="0.6"/>
<text x="42.6" y="586.20" font-size="5.3" fill="#333" text-anchor="end" stroke="#333" stroke-width="0.15">0.2</text>
<line x1="45.5" y1="592.95" x2="263.7" y2="592.95" stroke="#d4d4d4" stroke-width="0.7" stroke-dasharray="1,1.2"/>
<line x1="43.9" y1="592.95" x2="45.5" y2="592.95" stroke="#888" stroke-width="0.6"/>
<text x="42.6" y="594.85" font-size="5.3" fill="#333" text-anchor="end" stroke="#333" stroke-width="0.15">0.1</text>
<line x1="45.5" y1="601.60" x2="263.7" y2="601.60" stroke="#d4d4d4" stroke-width="0.7" stroke-dasharray="1,1.2"/>
<line x1="43.9" y1="601.60" x2="45.5" y2="601.60" stroke="#888" stroke-width="0.6"/>
<text x="42.6" y="603.50" font-size="5.3" fill="#333" text-anchor="end" stroke="#333" stroke-width="0.15">0.0</text>
<line x1="45.5" y1="610.25" x2="263.7" y2="610.25" stroke="#d4d4d4" stroke-width="0.7" stroke-dasharray="1,1.2"/>
<line x1="43.9" y1="610.25" x2="45.5" y2="610.25" stroke="#888" stroke-width="0.6"/>
<text x="42.6" y="612.15" font-size="5.3" fill="#333" text-anchor="end" stroke="#333" stroke-width="0.15">-0.1</text>
<line x1="45.5" y1="618.90" x2="263.7" y2="618.90" stroke="#d4d4d4" stroke-width="0.7" stroke-dasharray="1,1.2"/>
<line x1="43.9" y1="618.90" x2="45.5" y2="618.90" stroke="#888" stroke-width="0.6"/>
<text x="42.6" y="620.80" font-size="5.3" fill="#333" text-anchor="end" stroke="#333" stroke-width="0.15">-0.2</text>
<line x1="45.5" y1="627.55" x2="263.7" y2="627.55" stroke="#d4d4d4" stroke-width="0.7" stroke-dasharray="1,1.2"/>
<line x1="43.9" y1="627.55" x2="45.5" y2="627.55" stroke="#888" stroke-width="0.6"/>
<text x="42.6" y="629.45" font-size="5.3" fill="#333" text-anchor="end" stroke="#333" stroke-width="0.15">-0.3</text>
<path d="M45.90,601.60 L45.90,575.80 L46.60,578.00 L48.00,580.50 L51.20,582.00 L56.00,584.50 L67.30,587.00 L80.00,589.30 L94.20,591.00 L110.00,592.70 L121.20,593.70 L140.00,595.20 L164.00,597.60 L188.00,600.00 L203.70,601.60 L212.00,603.00 L231.30,604.70 L243.40,607.00 L248.00,608.60 L250.60,610.70 L252.00,614.00 L252.50,617.90 L253.00,629.90 L253.40,629.90 L253.40,601.60Z" fill="#c0c0c0"/>
<line x1="203.40" y1="567.3" x2="203.40" y2="633.2" stroke="#999" stroke-width="0.6" stroke-dasharray="1,1"/>
<text x="180.4" y="602.6" font-size="5.9" fill="#222" textLength="47.3" lengthAdjust="spacingAndGlyphs" stroke="#222" stroke-width="0.15">Zero cross at 17086</text>
<text x="47.9" y="573.3" font-size="5.9" fill="#c82828" textLength="69.1" lengthAdjust="spacingAndGlyphs" stroke="#c82828" stroke-width="0.15">'FHR' (positively correlated)</text>
<text x="154.9" y="630.7" font-size="5.9" fill="#2828d0" textLength="76.9" lengthAdjust="spacingAndGlyphs" stroke="#2828d0" stroke-width="0.15">'Others' (negatively correlated)</text>
<line x1="45.5" y1="428.5" x2="45.5" y2="633.2" stroke="#888" stroke-width="0.7"/>
<line x1="46.00" y1="633.2" x2="46.00" y2="634.8000000000001" stroke="#888" stroke-width="0.6"/>
<text x="46.00" y="639.9" font-size="5.3" fill="#333" text-anchor="middle" stroke="#333" stroke-width="0.15">0</text>
<line x1="69.03" y1="633.2" x2="69.03" y2="634.8000000000001" stroke="#888" stroke-width="0.6"/>
<text x="69.03" y="639.9" font-size="5.3" fill="#333" text-anchor="middle" stroke="#333" stroke-width="0.15">2,500</text>
<line x1="92.06" y1="633.2" x2="92.06" y2="634.8000000000001" stroke="#888" stroke-width="0.6"/>
<text x="92.06" y="639.9" font-size="5.3" fill="#333" text-anchor="middle" stroke="#333" stroke-width="0.15">5,000</text>
<line x1="115.09" y1="633.2" x2="115.09" y2="634.8000000000001" stroke="#888" stroke-width="0.6"/>
<text x="115.09" y="639.9" font-size="5.3" fill="#333" text-anchor="middle" stroke="#333" stroke-width="0.15">7,500</text>
<line x1="138.12" y1="633.2" x2="138.12" y2="634.8000000000001" stroke="#888" stroke-width="0.6"/>
<text x="138.12" y="639.9" font-size="5.3" fill="#333" text-anchor="middle" stroke="#333" stroke-width="0.15">10,000</text>
<line x1="161.15" y1="633.2" x2="161.15" y2="634.8000000000001" stroke="#888" stroke-width="0.6"/>
<text x="161.15" y="639.9" font-size="5.3" fill="#333" text-anchor="middle" stroke="#333" stroke-width="0.15">12,500</text>
<line x1="184.18" y1="633.2" x2="184.18" y2="634.8000000000001" stroke="#888" stroke-width="0.6"/>
<text x="184.18" y="639.9" font-size="5.3" fill="#333" text-anchor="middle" stroke="#333" stroke-width="0.15">15,000</text>
<line x1="207.21" y1="633.2" x2="207.21" y2="634.8000000000001" stroke="#888" stroke-width="0.6"/>
<text x="207.21" y="639.9" font-size="5.3" fill="#333" text-anchor="middle" stroke="#333" stroke-width="0.15">17,500</text>
<line x1="230.24" y1="633.2" x2="230.24" y2="634.8000000000001" stroke="#888" stroke-width="0.6"/>
<text x="230.24" y="639.9" font-size="5.3" fill="#333" text-anchor="middle" stroke="#333" stroke-width="0.15">20,000</text>
<line x1="253.27" y1="633.2" x2="253.27" y2="634.8000000000001" stroke="#888" stroke-width="0.6"/>
<text x="253.27" y="639.9" font-size="5.3" fill="#333" text-anchor="middle" stroke="#333" stroke-width="0.15">22,500</text>
<text x="154.2" y="648.3" font-size="7.2" fill="#222" text-anchor="middle" textLength="72.7" lengthAdjust="spacingAndGlyphs" stroke="#222" stroke-width="0.15">Rank in Ordered Dataset</text>
<text x="0" y="0" font-size="6.6" fill="#333" text-anchor="middle" textLength="68" lengthAdjust="spacingAndGlyphs" transform="translate(31.3 478.1) rotate(-90)" stroke="#333" stroke-width="0.15">Enrichment score (ES)</text>
<text x="0" y="0" font-size="6.3" fill="#333" text-anchor="middle" textLength="99.2" lengthAdjust="spacingAndGlyphs" transform="translate(29.2 600.3) rotate(-90)" stroke="#333" stroke-width="0.15">Ranked list metric (Signal2Noise)</text>
<polyline points="45.80,522.10 46.20,507.70 46.70,494.20 48.70,486.50 50.60,475.00 52.50,465.40 53.80,460.60 55.40,451.90 56.30,444.20 58.30,441.90 60.20,440.40 65.00,440.00 66.50,436.90 68.80,438.10 73.70,436.90 76.50,438.10 81.30,436.20 83.80,433.70 88.10,434.60 92.90,434.20 95.80,436.20 100.60,438.50 104.40,436.90 109.20,438.80 116.90,440.40 124.60,444.20 140.60,450.70 162.70,464.00 184.90,478.60 207.00,494.00 229.00,508.20 253.20,522.50" fill="none" stroke="#7df01e" stroke-width="2.1" stroke-linejoin="round"/>
<rect x="51.5" y="653.2" width="182.6" height="10.9" fill="#fff" stroke="#555" stroke-width="0.8"/>
<line x1="53.5" y1="658.8" x2="60.8" y2="658.8" stroke="#7ce830" stroke-width="1.2"/>
<text x="62.7" y="661.3" font-size="7" fill="#222" textLength="56.1" lengthAdjust="spacingAndGlyphs" stroke="#222" stroke-width="0.15">Enrichment profile</text>
<line x1="123.0" y1="658.8" x2="128.7" y2="658.8" stroke="#333" stroke-width="0.7"/>
<text x="130.5" y="661.3" font-size="7" fill="#222" textLength="11.5" lengthAdjust="spacingAndGlyphs" stroke="#222" stroke-width="0.15">Hits</text>
<line x1="145.0" y1="658.8" x2="151.2" y2="658.8" stroke="#e4e4e4" stroke-width="0.7"/>
<line x1="157.0" y1="658.8" x2="163.0" y2="658.8" stroke="#ddd" stroke-width="0.7"/>
<text x="165.5" y="661.3" font-size="7" fill="#222" textLength="67" lengthAdjust="spacingAndGlyphs" stroke="#222" stroke-width="0.15">Ranking metric scores</text>
<rect x="271.2" y="416.2" width="247.8" height="248.4" fill="#ebebeb"/>
<text x="354.2" y="424.2" font-size="8.9" font-weight="bold" fill="#111" textLength="79.6" lengthAdjust="spacingAndGlyphs" stroke="#111" stroke-width="0.15">Enrichment plot:</text>
<text x="293.6" y="434.6" font-size="8.9" font-weight="bold" fill="#111" textLength="203.4" lengthAdjust="spacingAndGlyphs" stroke="#111" stroke-width="0.15">HALLMARK_ESTROGEN_RESPONSE_EARLY</text>
<rect x="300.6" y="438.5" width="216.2" height="194.8" fill="#fff" stroke="#b8b8b8" stroke-width="0.6"/>
<line x1="323.67" y1="438.5" x2="323.67" y2="532.6" stroke="#d4d4d4" stroke-width="0.7" stroke-dasharray="1,1.2"/>
<line x1="323.67" y1="570.8" x2="323.67" y2="633.3" stroke="#d4d4d4" stroke-width="0.7" stroke-dasharray="1,1.2"/>
<line x1="346.54" y1="438.5" x2="346.54" y2="532.6" stroke="#d4d4d4" stroke-width="0.7" stroke-dasharray="1,1.2"/>
<line x1="346.54" y1="570.8" x2="346.54" y2="633.3" stroke="#d4d4d4" stroke-width="0.7" stroke-dasharray="1,1.2"/>
<line x1="369.41" y1="438.5" x2="369.41" y2="532.6" stroke="#d4d4d4" stroke-width="0.7" stroke-dasharray="1,1.2"/>
<line x1="369.41" y1="570.8" x2="369.41" y2="633.3" stroke="#d4d4d4" stroke-width="0.7" stroke-dasharray="1,1.2"/>
<line x1="392.28" y1="438.5" x2="392.28" y2="532.6" stroke="#d4d4d4" stroke-width="0.7" stroke-dasharray="1,1.2"/>
<line x1="392.28" y1="570.8" x2="392.28" y2="633.3" stroke="#d4d4d4" stroke-width="0.7" stroke-dasharray="1,1.2"/>
<line x1="415.15" y1="438.5" x2="415.15" y2="532.6" stroke="#d4d4d4" stroke-width="0.7" stroke-dasharray="1,1.2"/>
<line x1="415.15" y1="570.8" x2="415.15" y2="633.3" stroke="#d4d4d4" stroke-width="0.7" stroke-dasharray="1,1.2"/>
<line x1="438.02" y1="438.5" x2="438.02" y2="532.6" stroke="#d4d4d4" stroke-width="0.7" stroke-dasharray="1,1.2"/>
<line x1="438.02" y1="570.8" x2="438.02" y2="633.3" stroke="#d4d4d4" stroke-width="0.7" stroke-dasharray="1,1.2"/>
<line x1="460.89" y1="438.5" x2="460.89" y2="532.6" stroke="#d4d4d4" stroke-width="0.7" stroke-dasharray="1,1.2"/>
<line x1="460.89" y1="570.8" x2="460.89" y2="633.3" stroke="#d4d4d4" stroke-width="0.7" stroke-dasharray="1,1.2"/>
<line x1="483.76" y1="438.5" x2="483.76" y2="532.6" stroke="#d4d4d4" stroke-width="0.7" stroke-dasharray="1,1.2"/>
<line x1="483.76" y1="570.8" x2="483.76" y2="633.3" stroke="#d4d4d4" stroke-width="0.7" stroke-dasharray="1,1.2"/>
<line x1="506.63" y1="438.5" x2="506.63" y2="532.6" stroke="#d4d4d4" stroke-width="0.7" stroke-dasharray="1,1.2"/>
<line x1="506.63" y1="570.8" x2="506.63" y2="633.3" stroke="#d4d4d4" stroke-width="0.7" stroke-dasharray="1,1.2"/>
<line x1="300.6" y1="443.47" x2="516.8" y2="443.47" stroke="#d4d4d4" stroke-width="0.7" stroke-dasharray="1,1.2"/>
<line x1="299.0" y1="443.47" x2="300.6" y2="443.47" stroke="#888" stroke-width="0.6"/>
<text x="297.70000000000005" y="445.37" font-size="5.3" fill="#333" text-anchor="end" stroke="#333" stroke-width="0.15">0.45</text>
<line x1="300.6" y1="451.34" x2="516.8" y2="451.34" stroke="#d4d4d4" stroke-width="0.7" stroke-dasharray="1,1.2"/>
<line x1="299.0" y1="451.34" x2="300.6" y2="451.34" stroke="#888" stroke-width="0.6"/>
<text x="297.70000000000005" y="453.24" font-size="5.3" fill="#333" text-anchor="end" stroke="#333" stroke-width="0.15">0.40</text>
<line x1="300.6" y1="459.21" x2="516.8" y2="459.21" stroke="#d4d4d4" stroke-width="0.7" stroke-dasharray="1,1.2"/>
<line x1="299.0" y1="459.21" x2="300.6" y2="459.21" stroke="#888" stroke-width="0.6"/>
<text x="297.70000000000005" y="461.11" font-size="5.3" fill="#333" text-anchor="end" stroke="#333" stroke-width="0.15">0.35</text>
<line x1="300.6" y1="467.08" x2="516.8" y2="467.08" stroke="#d4d4d4" stroke-width="0.7" stroke-dasharray="1,1.2"/>
<line x1="299.0" y1="467.08" x2="300.6" y2="467.08" stroke="#888" stroke-width="0.6"/>
<text x="297.70000000000005" y="468.98" font-size="5.3" fill="#333" text-anchor="end" stroke="#333" stroke-width="0.15">0.30</text>
<line x1="300.6" y1="474.95" x2="516.8" y2="474.95" stroke="#d4d4d4" stroke-width="0.7" stroke-dasharray="1,1.2"/>
<line x1="299.0" y1="474.95" x2="300.6" y2="474.95" stroke="#888" stroke-width="0.6"/>
<text x="297.70000000000005" y="476.85" font-size="5.3" fill="#333" text-anchor="end" stroke="#333" stroke-width="0.15">0.25</text>
<line x1="300.6" y1="482.82" x2="516.8" y2="482.82" stroke="#d4d4d4" stroke-width="0.7" stroke-dasharray="1,1.2"/>
<line x1="299.0" y1="482.82" x2="300.6" y2="482.82" stroke="#888" stroke-width="0.6"/>
<text x="297.70000000000005" y="484.72" font-size="5.3" fill="#333" text-anchor="end" stroke="#333" stroke-width="0.15">0.20</text>
<line x1="300.6" y1="490.69" x2="516.8" y2="490.69" stroke="#d4d4d4" stroke-width="0.7" stroke-dasharray="1,1.2"/>
<line x1="299.0" y1="490.69" x2="300.6" y2="490.69" stroke="#888" stroke-width="0.6"/>
<text x="297.70000000000005" y="492.59" font-size="5.3" fill="#333" text-anchor="end" stroke="#333" stroke-width="0.15">0.15</text>
<line x1="300.6" y1="498.56" x2="516.8" y2="498.56" stroke="#d4d4d4" stroke-width="0.7" stroke-dasharray="1,1.2"/>
<line x1="299.0" y1="498.56" x2="300.6" y2="498.56" stroke="#888" stroke-width="0.6"/>
<text x="297.70000000000005" y="500.46" font-size="5.3" fill="#333" text-anchor="end" stroke="#333" stroke-width="0.15">0.10</text>
<line x1="300.6" y1="506.43" x2="516.8" y2="506.43" stroke="#d4d4d4" stroke-width="0.7" stroke-dasharray="1,1.2"/>
<line x1="299.0" y1="506.43" x2="300.6" y2="506.43" stroke="#888" stroke-width="0.6"/>
<text x="297.70000000000005" y="508.33" font-size="5.3" fill="#333" text-anchor="end" stroke="#333" stroke-width="0.15">0.05</text>
<line x1="300.6" y1="514.30" x2="516.8" y2="514.30" stroke="#d4d4d4" stroke-width="0.7" stroke-dasharray="1,1.2"/>
<line x1="299.0" y1="514.30" x2="300.6" y2="514.30" stroke="#888" stroke-width="0.6"/>
<text x="297.70000000000005" y="516.20" font-size="5.3" fill="#333" text-anchor="end" stroke="#333" stroke-width="0.15">0.00</text>
<line x1="300.6" y1="522.17" x2="516.8" y2="522.17" stroke="#d4d4d4" stroke-width="0.7" stroke-dasharray="1,1.2"/>
<line x1="299.0" y1="522.17" x2="300.6" y2="522.17" stroke="#888" stroke-width="0.6"/>
<text x="297.70000000000005" y="524.07" font-size="5.3" fill="#333" text-anchor="end" stroke="#333" stroke-width="0.15">-0.05</text>
<line x1="300.6" y1="530.04" x2="516.8" y2="530.04" stroke="#d4d4d4" stroke-width="0.7" stroke-dasharray="1,1.2"/>
<line x1="299.0" y1="530.04" x2="300.6" y2="530.04" stroke="#888" stroke-width="0.6"/>
<text x="297.70000000000005" y="531.94" font-size="5.3" fill="#333" text-anchor="end" stroke="#333" stroke-width="0.15">-0.10</text>
<line x1="300.6" y1="514.30" x2="516.8" y2="514.30" stroke="#999" stroke-width="0.7"/>
<line x1="300.6" y1="532.6" x2="516.8" y2="532.6" stroke="#bbb" stroke-width="0.6"/>
<rect x="300.6" y="533.8" width="2.20" height="29.50" fill="#000"/>
<rect x="302.8" y="533.8" width="1.00" height="29.50" fill="#888"/>
<rect x="303.8" y="533.8" width="1.10" height="29.50" fill="#000"/>
<rect x="304.9" y="533.8" width="1.00" height="29.50" fill="#aaa"/>
<rect x="305.9" y="533.8" width="1.60" height="29.50" fill="#000"/>
<rect x="308.5" y="533.8" width="0.90" height="29.50" fill="#888"/>
<rect x="309.4" y="533.8" width="1.50" height="29.50" fill="#000"/>
<rect x="310.9" y="533.8" width="0.90" height="29.50" fill="#bbb"/>
<rect x="311.8" y="533.8" width="1.50" height="29.50" fill="#555"/>
<rect x="315.5" y="533.8" width="1.00" height="29.50" fill="#999"/>
<rect x="316.5" y="533.8" width="1.60" height="29.50" fill="#000"/>
<rect x="318.1" y="533.8" width="1.10" height="29.50" fill="#444"/>
<rect x="319.2" y="533.8" width="1.60" height="29.50" fill="#000"/>
<rect x="320.8" y="533.8" width="1.00" height="29.50" fill="#888"/>
<rect x="321.8" y="533.8" width="1.60" height="29.50" fill="#000"/>
<rect x="323.4" y="533.8" width="1.10" height="29.50" fill="#666"/>
<rect x="324.5" y="533.8" width="5.20" height="29.50" fill="#000"/>
<rect x="329.7" y="533.8" width="1.10" height="29.50" fill="#bbb"/>
<rect x="330.8" y="533.8" width="1.10" height="29.50" fill="#444"/>
<rect x="331.9" y="533.8" width="1.00" height="29.50" fill="#ccc"/>
<rect x="332.9" y="533.8" width="1.60" height="29.50" fill="#222"/>
<rect x="334.5" y="533.8" width="1.10" height="29.50" fill="#aaa"/>
<rect x="339.3" y="533.8" width="1.00" height="29.50" fill="#999"/>
<rect x="340.3" y="533.8" width="1.30" height="29.50" fill="#000"/>
<rect x="341.6" y="533.8" width="0.80" height="29.50" fill="#888"/>
<rect x="342.4" y="533.8" width="1.30" height="29.50" fill="#222"/>
<rect x="343.7" y="533.8" width="0.90" height="29.50" fill="#ccc"/>
<rect x="344.6" y="533.8" width="1.50" height="29.50" fill="#444"/>
<rect x="346.1" y="533.8" width="1.10" height="29.50" fill="#ccc"/>
<rect x="347.2" y="533.8" width="1.10" height="29.50" fill="#222"/>
<rect x="348.3" y="533.8" width="1.60" height="29.50" fill="#888"/>
<rect x="349.9" y="533.8" width="2.20" height="29.50" fill="#333"/>
<rect x="352.1" y="533.8" width="2.70" height="29.50" fill="#888"/>
<rect x="356.9" y="533.8" width="2.10" height="29.50" fill="#000"/>
<rect x="360" y="533.8" width="1.10" height="29.50" fill="#222"/>
<rect x="361.1" y="533.8" width="2.40" height="29.50" fill="#777"/>
<rect x="363.5" y="533.8" width="2.90" height="29.50" fill="#999"/>
<rect x="366.4" y="533.8" width="1.10" height="29.50" fill="#000"/>
<rect x="367.5" y="533.8" width="2.50" height="29.50" fill="#888"/>
<rect x="370" y="533.8" width="3.80" height="29.50" fill="#aaa"/>
<rect x="375.4" y="533.8" width="2.60" height="29.50" fill="#999"/>
<rect x="378" y="533.8" width="2.70" height="29.50" fill="#000"/>
<rect x="381.7" y="533.8" width="3.30" height="29.50" fill="#aaa"/>
<rect x="385" y="533.8" width="3.10" height="29.50" fill="#c4c4c4"/>
<rect x="388.1" y="533.8" width="1.60" height="29.50" fill="#888"/>
<rect x="389.7" y="533.8" width="2.10" height="29.50" fill="#000"/>
<rect x="395.5" y="533.8" width="1.60" height="29.50" fill="#000"/>
<rect x="398.7" y="533.8" width="2.10" height="29.50" fill="#444"/>
<rect x="400.8" y="533.8" width="2.10" height="29.50" fill="#aaa"/>
<rect x="402.9" y="533.8" width="2.10" height="29.50" fill="#999"/>
<rect x="410.3" y="533.8" width="1.60" height="29.50" fill="#999"/>
<rect x="411.9" y="533.8" width="2.10" height="29.50" fill="#444"/>
<rect x="414" y="533.8" width="1.00" height="29.50" fill="#aaa"/>
<rect x="415" y="533.8" width="1.90" height="29.50" fill="#111"/>
<rect x="416.9" y="533.8" width="1.30" height="29.50" fill="#777"/>
<rect x="418.2" y="533.8" width="2.10" height="29.50" fill="#bbb"/>
<rect x="420.9" y="533.8" width="1.20" height="29.50" fill="#111"/>
<rect x="422.1" y="533.8" width="0.90" height="29.50" fill="#888"/>
<rect x="423" y="533.8" width="1.30" height="29.50" fill="#333"/>
<rect x="424.3" y="533.8" width="1.30" height="29.50" fill="#ccc"/>
<rect x="425.6" y="533.8" width="1.10" height="29.50" fill="#888"/>
<rect x="429.3" y="533.8" width="1.30" height="29.50" fill="#888"/>
<rect x="438.9" y="533.8" width="1.20" height="29.50" fill="#333"/>
<rect x="440.1" y="533.8" width="5.10" height="29.50" fill="#a0a0a0"/>
<rect x="446" y="533.8" width="0.90" height="29.50" fill="#333"/>
<rect x="451" y="533.8" width="1.60" height="29.50" fill="#444"/>
<rect x="452.6" y="533.8" width="1.30" height="29.50" fill="#ccc"/>
<rect x="453.9" y="533.8" width="1.70" height="29.50" fill="#555"/>
<rect x="456.9" y="533.8" width="1.00" height="29.50" fill="#666"/>
<rect x="458" y="533.8" width="1.00" height="29.50" fill="#999"/>
<rect x="460.6" y="533.8" width="1.10" height="29.50" fill="#444"/>
<rect x="461.7" y="533.8" width="2.10" height="29.50" fill="#999"/>
<rect x="464.9" y="533.8" width="2.10" height="29.50" fill="#888"/>
<rect x="469.1" y="533.8" width="1.10" height="29.50" fill="#333"/>
<rect x="470.2" y="533.8" width="1.60" height="29.50" fill="#999"/>
<rect x="471.8" y="533.8" width="1.00" height="29.50" fill="#000"/>
<rect x="473.9" y="533.8" width="1.60" height="29.50" fill="#999"/>
<rect x="475.5" y="533.8" width="1.50" height="29.50" fill="#555"/>
<rect x="481.8" y="533.8" width="1.10" height="29.50" fill="#000"/>
<rect x="486" y="533.8" width="3.70" height="29.50" fill="#999"/>
<rect x="489.7" y="533.8" width="1.10" height="29.50" fill="#000"/>
<rect x="491.9" y="533.8" width="1.00" height="29.50" fill="#333"/>
<rect x="492.9" y="533.8" width="3.10" height="29.50" fill="#999"/>
<rect x="496" y="533.8" width="3.30" height="29.50" fill="#888"/>
<rect x="499.3" y="533.8" width="2.10" height="29.50" fill="#333"/>
<rect x="501.4" y="533.8" width="1.00" height="29.50" fill="#999"/>
<rect x="502.4" y="533.8" width="2.20" height="29.50" fill="#aaa"/>
<rect x="504.6" y="533.8" width="1.50" height="29.50" fill="#000"/>
<rect x="300.8" y="563.5" width="2.20" height="7.30" fill="#a01c1c"/>
<rect x="303" y="563.5" width="5.00" height="7.30" fill="#c03434"/>
<rect x="308" y="563.5" width="8.00" height="7.30" fill="#c83c3c"/>
<rect x="316" y="563.5" width="10.00" height="7.30" fill="#cc4444"/>
<rect x="326" y="563.5" width="12.00" height="7.30" fill="#d44e50"/>
<rect x="338" y="563.5" width="12.00" height="7.30" fill="#d85658"/>
<rect x="350" y="563.5" width="12.00" height="7.30" fill="#da6064"/>
<rect x="362" y="563.5" width="14.00" height="7.30" fill="#dc6a70"/>
<rect x="376" y="563.5" width="15.50" height="7.30" fill="#e07a80"/>
<rect x="391.5" y="563.5" width="13.50" height="7.30" fill="#e8aad6"/>
<rect x="405" y="563.5" width="17.50" height="7.30" fill="#ecb8e0"/>
<rect x="422.5" y="563.5" width="9.50" height="7.30" fill="#dcdcfa"/>
<rect x="432" y="563.5" width="10.00" height="7.30" fill="#d2d2f8"/>
<rect x="442" y="563.5" width="10.00" height="7.30" fill="#c4c4f4"/>
<rect x="452" y="563.5" width="8.00" height="7.30" fill="#a8a8f0"/>
<rect x="460" y="563.5" width="10.00" height="7.30" fill="#7e7eec"/>
<rect x="470" y="563.5" width="10.80" height="7.30" fill="#6a6ae8"/>
<rect x="480.8" y="563.5" width="17.20" height="7.30" fill="#5048e0"/>
<rect x="498" y="563.5" width="8.50" height="7.30" fill="#1c00c4"/>
<line x1="300.6" y1="570.8" x2="516.8" y2="570.8" stroke="#bbb" stroke-width="0.5"/>
<line x1="300.6" y1="580.50" x2="516.8" y2="580.50" stroke="#d4d4d4" stroke-width="0.7" stroke-dasharray="1,1.2"/>
<line x1="299.0" y1="580.50" x2="300.6" y2="580.50" stroke="#888" stroke-width="0.6"/>
<text x="297.70000000000005" y="582.40" font-size="5.3" fill="#333" text-anchor="end" stroke="#333" stroke-width="0.15">1.0</text>
<line x1="300.6" y1="594.90" x2="516.8" y2="594.90" stroke="#d4d4d4" stroke-width="0.7" stroke-dasharray="1,1.2"/>
<line x1="299.0" y1="594.90" x2="300.6" y2="594.90" stroke="#888" stroke-width="0.6"/>
<text x="297.70000000000005" y="596.80" font-size="5.3" fill="#333" text-anchor="end" stroke="#333" stroke-width="0.15">0.5</text>
<line x1="300.6" y1="609.30" x2="516.8" y2="609.30" stroke="#d4d4d4" stroke-width="0.7" stroke-dasharray="1,1.2"/>
<line x1="299.0" y1="609.30" x2="300.6" y2="609.30" stroke="#888" stroke-width="0.6"/>
<text x="297.70000000000005" y="611.20" font-size="5.3" fill="#333" text-anchor="end" stroke="#333" stroke-width="0.15">0.0</text>
<line x1="300.6" y1="623.70" x2="516.8" y2="623.70" stroke="#d4d4d4" stroke-width="0.7" stroke-dasharray="1,1.2"/>
<line x1="299.0" y1="623.70" x2="300.6" y2="623.70" stroke="#888" stroke-width="0.6"/>
<text x="297.70000000000005" y="625.60" font-size="5.3" fill="#333" text-anchor="end" stroke="#333" stroke-width="0.15">-0.5</text>
<path d="M300.80,609.30 L300.80,579.20 L301.50,590.80 L302.30,595.40 L305.20,598.80 L309.80,601.20 L319.00,603.50 L330.60,605.20 L342.20,606.30 L356.00,607.20 L390.00,608.30 L422.00,609.30 L440.00,610.00 L465.00,612.00 L490.00,614.50 L502.50,617.50 L505.50,622.50 L506.30,630.00 L506.70,630.00 L506.70,609.30Z" fill="#c0c0c0"/>
<line x1="421.47" y1="570.8" x2="421.47" y2="633.3" stroke="#999" stroke-width="0.6" stroke-dasharray="1,1"/>
<text x="398" y="604" font-size="5.9" fill="#222" textLength="47.5" lengthAdjust="spacingAndGlyphs" stroke="#222" stroke-width="0.15">Zero cross at 13191</text>
<text x="302.5" y="576.3" font-size="5.9" fill="#c82828" textLength="70" lengthAdjust="spacingAndGlyphs" stroke="#c82828" stroke-width="0.15">'GMR' (positively correlated)</text>
<text x="408.8" y="631.3" font-size="5.9" fill="#2828d0" textLength="77.5" lengthAdjust="spacingAndGlyphs" stroke="#2828d0" stroke-width="0.15">'Others' (negatively correlated)</text>
<line x1="300.6" y1="438.5" x2="300.6" y2="633.3" stroke="#888" stroke-width="0.7"/>
<line x1="300.80" y1="633.3" x2="300.80" y2="634.9" stroke="#888" stroke-width="0.6"/>
<text x="300.80" y="639.9" font-size="5.3" fill="#333" text-anchor="middle" stroke="#333" stroke-width="0.15">0</text>
<line x1="323.67" y1="633.3" x2="323.67" y2="634.9" stroke="#888" stroke-width="0.6"/>
<text x="323.67" y="639.9" font-size="5.3" fill="#333" text-anchor="middle" stroke="#333" stroke-width="0.15">2,500</text>
<line x1="346.54" y1="633.3" x2="346.54" y2="634.9" stroke="#888" stroke-width="0.6"/>
<text x="346.54" y="639.9" font-size="5.3" fill="#333" text-anchor="middle" stroke="#333" stroke-width="0.15">5,000</text>
<line x1="369.41" y1="633.3" x2="369.41" y2="634.9" stroke="#888" stroke-width="0.6"/>
<text x="369.41" y="639.9" font-size="5.3" fill="#333" text-anchor="middle" stroke="#333" stroke-width="0.15">7,500</text>
<line x1="392.28" y1="633.3" x2="392.28" y2="634.9" stroke="#888" stroke-width="0.6"/>
<text x="392.28" y="639.9" font-size="5.3" fill="#333" text-anchor="middle" stroke="#333" stroke-width="0.15">10,000</text>
<line x1="415.15" y1="633.3" x2="415.15" y2="634.9" stroke="#888" stroke-width="0.6"/>
<text x="415.15" y="639.9" font-size="5.3" fill="#333" text-anchor="middle" stroke="#333" stroke-width="0.15">12,500</text>
<line x1="438.02" y1="633.3" x2="438.02" y2="634.9" stroke="#888" stroke-width="0.6"/>
<text x="438.02" y="639.9" font-size="5.3" fill="#333" text-anchor="middle" stroke="#333" stroke-width="0.15">15,000</text>
<line x1="460.89" y1="633.3" x2="460.89" y2="634.9" stroke="#888" stroke-width="0.6"/>
<text x="460.89" y="639.9" font-size="5.3" fill="#333" text-anchor="middle" stroke="#333" stroke-width="0.15">17,500</text>
<line x1="483.76" y1="633.3" x2="483.76" y2="634.9" stroke="#888" stroke-width="0.6"/>
<text x="483.76" y="639.9" font-size="5.3" fill="#333" text-anchor="middle" stroke="#333" stroke-width="0.15">20,000</text>
<line x1="506.63" y1="633.3" x2="506.63" y2="634.9" stroke="#888" stroke-width="0.6"/>
<text x="506.63" y="639.9" font-size="5.3" fill="#333" text-anchor="middle" stroke="#333" stroke-width="0.15">22,500</text>
<text x="408" y="648.3" font-size="7.2" fill="#222" text-anchor="middle" textLength="72.7" lengthAdjust="spacingAndGlyphs" stroke="#222" stroke-width="0.15">Rank in Ordered Dataset</text>
<text x="0" y="0" font-size="6.6" fill="#333" text-anchor="middle" textLength="68" lengthAdjust="spacingAndGlyphs" transform="translate(281.3 485.9) rotate(-90)" stroke="#333" stroke-width="0.15">Enrichment score (ES)</text>
<text x="0" y="0" font-size="6.3" fill="#333" text-anchor="middle" textLength="99.2" lengthAdjust="spacingAndGlyphs" transform="translate(284.3 602.6) rotate(-90)" stroke="#333" stroke-width="0.15">Ranked list metric (Signal2Noise)</text>
<polyline points="300.80,514.30 301.20,505.00 301.80,497.30 302.70,493.10 303.30,486.80 305.40,483.60 307.50,481.50 308.60,480.40 309.60,474.10 310.70,468.80 312.40,465.60 314.90,466.70 317.50,465.60 318.70,461.40 321.30,458.20 323.40,451.90 325.50,449.10 329.70,443.40 332.90,444.50 336.10,444.00 339.30,446.60 343.50,446.60 350.90,447.60 358.30,450.40 365.70,451.20 371.00,452.90 377.30,456.10 382.60,458.20 391.10,463.50 399.50,468.80 411.50,478.70 423.10,487.20 434.60,496.50 446.20,504.10 457.70,511.00 464.60,515.60 473.80,519.10 483.10,523.70 490.00,527.20 494.60,526.00 499.20,524.90 501.50,521.40 505.00,520.20 506.60,514.00" fill="none" stroke="#7df01e" stroke-width="2.1" stroke-linejoin="round"/>
<rect x="303.8" y="653.2" width="182.6" height="10.9" fill="#fff" stroke="#555" stroke-width="0.8"/>
<line x1="305.8" y1="658.8" x2="313.1" y2="658.8" stroke="#7ce830" stroke-width="1.2"/>
<text x="315.0" y="661.3" font-size="7" fill="#222" textLength="56.1" lengthAdjust="spacingAndGlyphs" stroke="#222" stroke-width="0.15">Enrichment profile</text>
<line x1="375.3" y1="658.8" x2="381.0" y2="658.8" stroke="#333" stroke-width="0.7"/>
<text x="382.8" y="661.3" font-size="7" fill="#222" textLength="11.5" lengthAdjust="spacingAndGlyphs" stroke="#222" stroke-width="0.15">Hits</text>
<line x1="397.3" y1="658.8" x2="403.5" y2="658.8" stroke="#e4e4e4" stroke-width="0.7"/>
<line x1="409.3" y1="658.8" x2="415.3" y2="658.8" stroke="#ddd" stroke-width="0.7"/>
<text x="417.8" y="661.3" font-size="7" fill="#222" textLength="67" lengthAdjust="spacingAndGlyphs" stroke="#222" stroke-width="0.15">Ranking metric scores</text>
</svg>
</body></html>
